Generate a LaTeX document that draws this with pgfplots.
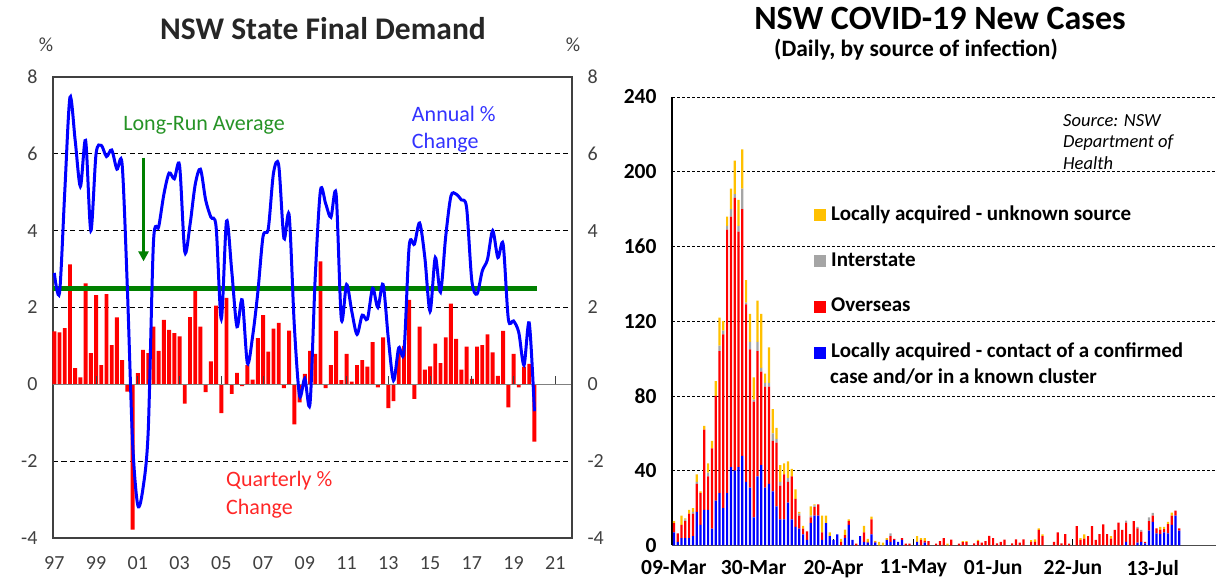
\documentclass[border=0pt]{standalone}
\usepackage{pgfplots}
\pgfplotsset{compat=1.18}
\usepackage{pgfplotstable}
\usepackage{fontspec}
\setmainfont{Carlito}
\usetikzlibrary{arrows.meta}

\definecolor{cblue}{RGB}{0,0,255}
\definecolor{cred}{RGB}{255,0,0}
\definecolor{cgray}{RGB}{165,165,165}
\definecolor{cyel}{RGB}{255,192,0}
\definecolor{cgreen}{RGB}{0,128,0}
\definecolor{axgray}{RGB}{64,64,64}

\pgfplotstableread{
i bar line
0 1.38 2.90
1 1.35 2.38
2 1.46 5.00
3 3.12 7.47
4 0.42 6.35
5 0.18 5.15
6 2.63 6.35
7 0.81 4.00
8 2.32 6.00
9 0.50 6.22
10 2.35 5.93
11 1.02 6.10
12 1.74 5.60
13 0.63 5.72
14 -0.19 2.50
15 -3.78 -1.50
16 0.29 -3.15
17 0.90 -2.70
18 0.81 -1.20
19 1.50 3.70
20 0.87 4.10
21 1.68 4.95
22 1.42 5.50
23 1.33 5.35
24 1.25 5.70
25 -0.50 3.45
26 1.75 4.15
27 2.50 5.20
28 1.50 5.60
29 -0.20 4.80
30 0.60 4.35
31 2.05 4.10
32 -0.75 1.70
33 2.25 4.25
34 -0.25 2.95
35 0.30 1.50
36 -0.05 2.20
37 0.50 0.55
38 0.12 1.25
39 1.20 2.40
40 1.80 3.85
41 0.85 4.05
42 1.45 5.50
43 1.60 5.70
44 -0.10 3.80
45 1.40 4.40
46 -1.04 1.50
47 -0.47 -0.30
48 0.27 0.15
49 0.87 -0.50
50 0.79 2.80
51 3.20 5.05
52 -0.10 4.70
53 0.50 4.35
54 1.39 4.95
55 0.11 1.70
56 0.79 2.60
57 0.07 1.90
58 0.50 1.30
59 0.63 1.80
60 0.46 1.70
61 1.10 2.50
62 -0.08 2.00
63 1.22 2.60
64 -0.62 1.20
65 -0.44 0.10
66 0.92 0.95
67 1.00 0.85
68 2.20 3.60
69 -0.38 3.65
70 1.50 4.20
71 0.38 3.30
72 0.47 1.90
73 1.06 3.30
74 0.55 2.40
75 1.22 3.85
76 2.10 4.90
77 1.18 4.95
78 0.38 4.80
79 0.98 4.60
80 0.14 2.70
81 0.98 2.35
82 1.02 2.95
83 1.30 3.25
84 0.83 4.00
85 0.22 3.30
86 1.39 3.65
87 -0.60 1.70
88 0.79 1.65
89 -0.08 1.35
90 0.46 0.50
91 0.53 1.60
92 -1.49 -0.70
}\nswdata

\pgfplotstableread{
d B R G Y
0 7 5 0 1
1 2 4.5 0 0
2 4 7 0 5
3 4 9 1 0.5
4 4 13 0 2
5 5 12 1 2
6 18 15 1 4
7 11 17 0 1
8 19 43 0 2
9 19 18 2 5
10 9 43 0 4
11 24 56 0 8
12 28 76 3 15
13 20 93 2 5
14 28 141 2 5
15 42 134 4 11
16 40 146 2 18
17 42 126 3 14
18 48 132 11 21
19 34 95 1 12
20 31 74 4 15
21 15 62 1 12
22 37 67 5 22
23 43 50 2 29
24 31 54 2 5
25 33 52 2 19
26 29 27 4 13
27 21 34 2 6
28 14 18 2 9
29 14 24 0 6
30 23 11 2 9
31 14 23 0 4
32 10 15 0 5
33 9 7 1 1
34 6 3 0 1.5
35 3 4.5 0 0
36 12 3 1 5
37 16 4.5 1 0.5
38 16 6 0 0
39 3 4 0 9
40 12 0 0 4
41 5 0 0 2
42 3 0 0 0
43 6 0 0 0
44 0 2 0 1.5
45 4 1.5 0 3
46 11 2 0 1
47 3 0 0 0
48 0 1 0 0
49 5 0 0 0
50 2 5 0 3.5
51 1.5 0.5 0 1.5
52 6 8 0 1.5
53 1.5 0.5 0 0.5
54 0 0 0 2
55 0 0 0 1.5
56 3 0 0 1
57 2 3 1.5 0
58 3 0.5 0 0
59 2 0 0 0
60 3 1 0 0
61 0 1 0 0
62 0 1 0 0
63 0 0 0 0
64 2 0 0 3
65 0 3 0 1
66 1.5 1 0 1.5
67 0 2.4 0 0
68 0 0 0 0
69 0 1 0 0
70 0 2.4 0 0
71 0 4 0 0
72 0 0 0 1
73 0 3.2 0 0
74 0 0 0 0
75 0 1 0 0
76 0 1.8 0 0.6
77 0 1.8 0 0.6
78 0 0 0 0
79 0 1.1 0 0
80 0 2.4 0 0.6
81 0 1.5 0 0
82 0 2.4 0 0
83 0 5.2 0 0
84 0 4 0 0
85 0 1.1 0 0
86 0 2 0 0
87 0 3.2 0 0
88 0 0 0 0
89 0 1.1 0 0
90 0 3.3 0 0
91 0 1.5 0 0
92 0 3.3 0 0
93 0 0 0 0
94 0 2 0 0.9
95 0 2 0 1.3
96 0 8.3 0 0.9
97 0 5 0 1
98 0 0 0 0
99 0 0 0 0
100 0 2 0 0
101 0 7 0 0
102 0 1.1 0 0
103 0 6.1 0 0
104 0 1 0 0
105 0 0 0 0
106 0 10.4 0 0
107 0 3 0 1
108 0 3.7 0 2.3
109 0 5 0 0
110 0 10.4 0 0
111 0 3 0 0
112 0 6.1 0 0
113 0 11.3 0 0
114 0 6.1 0 0
115 0 3.7 0 1.3
116 0 8.3 0 0
117 0 12.2 0 0
118 0 8.3 0 0
119 2 10.2 1.1 0
120 0 6.1 0 0
121 0 13 0 0
122 1.5 7.7 0.8 0
123 2 5.4 0.9 0
124 1.2 0.8 0 0
125 7.9 5.1 2 0
126 12.7 3.3 1.5 0
127 6.5 2.7 0 0
128 6.1 2.2 0 1.7
129 7 1.8 0 1.2
130 6.5 5 0 1.2
131 11 5 0 1.6
132 16 2.6 0 0
133 7.9 1.3 0 0
}\coviddata

\begin{document}
\begin{tikzpicture}
\useasboundingbox (0pt,0pt) rectangle (1216pt,580pt);

% ---------------- Left panel ----------------
\node[anchor=base, font=\bfseries\fontsize{31.5}{31.5}\selectfont, text=black!85] at (323pt,540pt) {NSW State Final Demand};
\node[anchor=base, font=\fontsize{20}{20}\selectfont, text=axgray] at (46pt,528pt) {\%};
\node[anchor=base, font=\fontsize{20}{20}\selectfont, text=axgray] at (573pt,528pt) {\%};

\begin{axis}[
  at={(53pt,42pt)}, anchor=south west,
  scale only axis, width=519pt, height=461pt,
  xmin=-0.25, xmax=99.2, ymin=-4, ymax=8,
  axis line style={draw=axgray, line width=1.2pt},
  xtick={0,8,...,96},
  xticklabels={97,99,01,03,05,07,09,11,13,15,17,19,21},
  ytick={-4,-2,...,8},
  yticklabels={-4,-2,0,2,4,6,8},
  major tick length=0pt,
  tick style={draw=none},
  ymajorgrids,
  grid style={black, line width=0.9pt, dash pattern=on 5pt off 3.5pt},
  tick label style={font=\fontsize{20}{20}\selectfont, text=axgray},
  yticklabel style={xshift=-12pt},
  xticklabel style={yshift=-15pt},
  clip=false,
]
\addplot[ybar, bar width=3.9pt, fill=cred, draw=none] table[x=i, y=bar] {\nswdata};
\draw[gray, line width=1.2pt] (axis cs:-0.25,0) -- (axis cs:99.2,0);
\pgfplotsinvokeforeach{8,16,...,96}{\draw[axgray, line width=1pt] (axis cs:#1,0) -- ++(0pt,8pt);}
\addplot[cgreen, line width=5.5pt] coordinates {(-0.25,2.5) (92.55,2.5)};
\addplot[cblue, line width=3pt, smooth, tension=0.5] table[x=i, y=line] {\nswdata};
\draw[cgreen, line width=2.8pt, -{Triangle[width=10pt,length=10pt]}] (axis cs:17.1,5.9) -- (axis cs:17.1,3.2);
\node[anchor=west, inner sep=0pt, text=cgreen!85!white, font=\fontsize{22}{22}\selectfont] at (axis cs:13.2,6.75) {Long-Run Average};
\node[anchor=west, inner sep=0pt, text=cblue!80!white, font=\fontsize{22}{22}\selectfont] at (axis cs:68.5,7.03) {Annual \%};
\node[anchor=west, inner sep=0pt, text=cblue!80!white, font=\fontsize{22}{22}\selectfont] at (axis cs:68.5,6.28) {Change};
\node[anchor=west, inner sep=0pt, text=cred!85!white, font=\fontsize{22}{22}\selectfont] at (axis cs:32.9,-2.5) {Quarterly \%};
\node[anchor=west, inner sep=0pt, text=cred!85!white, font=\fontsize{22}{22}\selectfont] at (axis cs:32.9,-3.25) {Change};
\end{axis}

\begin{axis}[
  at={(53pt,42pt)}, anchor=south west,
  scale only axis, width=519pt, height=461pt,
  xmin=-0.25, xmax=99.2, ymin=-4, ymax=8,
  axis x line=none, axis y line*=right,
  axis line style={draw=axgray, line width=1.2pt},
  ytick={-4,-2,...,8},
  yticklabels={-4,-2,0,2,4,6,8},
  tick style={draw=none},
  tick label style={font=\fontsize{20}{20}\selectfont, text=axgray},
  yticklabel style={xshift=12pt},
]
\addplot[draw=none] coordinates {(0,0)};
\end{axis}

% ---------------- Right panel ----------------
\node[anchor=base, font=\bfseries\fontsize{34}{34}\selectfont] at (940pt,550pt) {NSW COVID-19 New Cases};
\node[anchor=base, font=\bfseries\fontsize{23.5}{23.5}\selectfont] at (916pt,523pt) {(Daily, by source of infection)};
\node[anchor=north west, align=left, inner sep=0pt, font=\itshape\fontsize{18.5}{21.5}\selectfont] at (1063pt,466pt) {Source: NSW\\Department of\\Health};

\begin{axis}[
  at={(672pt,34.5pt)}, anchor=south west,
  scale only axis, width=544pt, height=448.5pt,
  ybar stacked, bar width=2.2pt,
  xmin=-0.5, xmax=142.66, ymin=0, ymax=240,
  axis x line*=bottom, axis y line*=left,
  x axis line style={draw=black!70, line width=1.8pt},
  y axis line style={draw=black, line width=1.4pt},
  ytick={0,40,...,240},
  ymajorgrids,
  grid style={black, line width=0.7pt, dash pattern=on 3pt off 2pt},
  xtick={0,21,...,126},
  xticklabels={09-Mar,30-Mar,20-Apr,11-May,01-Jun,22-Jun,13-Jul},
  ytick style={draw=none},
  xtick style={draw=black, line width=1pt},
  tick align=inside, major tick length=6pt,
  /pgf/number format/assume math mode=true,
  tick label style={font=\bfseries\fontsize{21.5}{21.5}\selectfont},
  yticklabel style={xshift=-12pt},
  xticklabel style={yshift=-11pt},
  legend image code/.code={\fill[#1] (0pt,-6pt) rectangle (12pt,6pt);},
  reverse legend,
  legend style={at={(0.2555,0.7635)}, anchor=north west, draw=none, fill=none,
    font=\bfseries\fontsize{21}{21}\selectfont, row sep=25.8pt,
    nodes={inner sep=0pt, text height=15pt, text depth=5pt},
    /tikz/every odd column/.append style={column sep=5pt}},
  legend cell align=left,
  clip=false,
]
\addplot[fill=cblue, draw=none] table[x=d, y=B] {\coviddata};
\addlegendentry{Locally acquired - contact of a confirmed}
\addplot[fill=cred, draw=none] table[x=d, y=R] {\coviddata};
\addlegendentry{Overseas}
\addplot[fill=cgray, draw=none] table[x=d, y=G] {\coviddata};
\addlegendentry{Interstate}
\addplot[fill=cyel, draw=none] table[x=d, y=Y] {\coviddata};
\addlegendentry{Locally acquired - unknown source}
\node[anchor=base west, inner sep=0pt, font=\bfseries\fontsize{21}{21}\selectfont] at (axis cs:41.08,86.5) {case and/or in a known cluster};
\end{axis}
\end{tikzpicture}
\end{document}
